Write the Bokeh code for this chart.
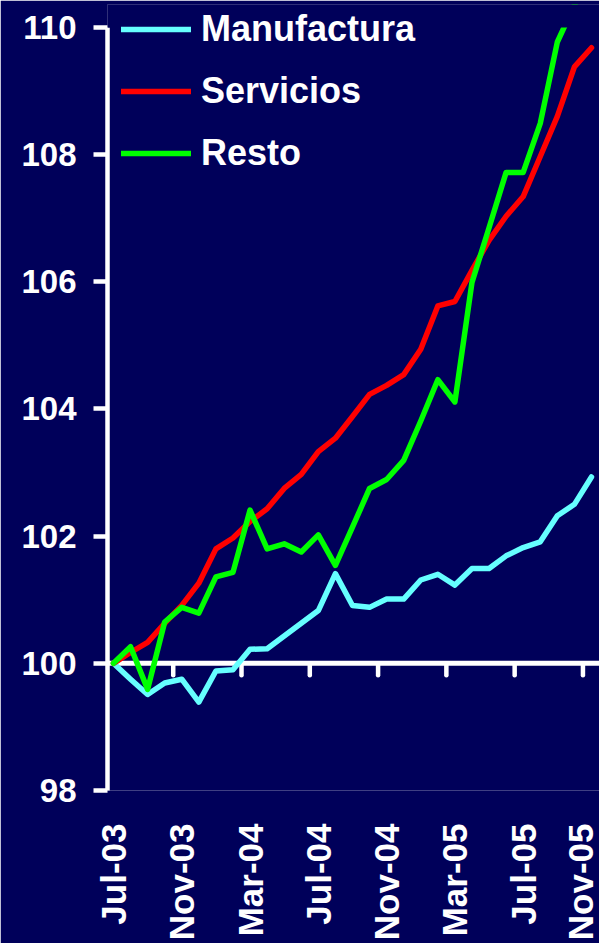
import numpy as np
from bokeh.plotting import figure
from bokeh.models import Legend, LegendItem, Span, FixedTicker, Range1d, BoxAnnotation
from bokeh.embed import file_html
from bokeh.resources import INLINE

months = ["Jul-03", "Aug-03", "Sep-03", "Oct-03", "Nov-03", "Dec-03",
          "Jan-04", "Feb-04", "Mar-04", "Apr-04", "May-04", "Jun-04",
          "Jul-04", "Aug-04", "Sep-04", "Oct-04", "Nov-04", "Dec-04",
          "Jan-05", "Feb-05", "Mar-05", "Apr-05", "May-05", "Jun-05",
          "Jul-05", "Aug-05", "Sep-05", "Oct-05", "Nov-05"]

manufactura = [100.00, 99.75, 99.51, 99.69, 99.75, 99.39, 99.88, 99.90, 100.22,
               100.23, 100.43, 100.63, 100.83, 101.41, 100.91, 100.88, 101.01,
               101.01, 101.31, 101.40, 101.23, 101.49, 101.49, 101.69, 101.82,
               101.91, 102.32, 102.50, 102.93]
servicios = [100.00, 100.17, 100.33, 100.63, 100.91, 101.26, 101.80, 101.97, 102.23,
             102.43, 102.75, 102.97, 103.33, 103.54, 103.88, 104.23, 104.37,
             104.54, 104.94, 105.62, 105.69, 106.18, 106.65, 107.03, 107.34,
             107.97, 108.60, 109.38, 109.68]
resto = [100.00, 100.26, 99.59, 100.65, 100.88, 100.79, 101.36, 101.43, 102.41,
         101.80, 101.88, 101.75, 102.02, 101.54, 102.14, 102.75, 102.89, 103.19,
         103.81, 104.46, 104.11, 105.99, 106.85, 107.72, 107.72, 108.49, 109.77,
         110.35, 110.80]

y_ticks = [98, 100, 102, 104, 106, 108, 110]
label_step = 4

x = list(range(len(months)))
bg = "#00005A"
FONT = "Liberation Sans"
y_min, y_max = y_ticks[0], y_ticks[-1]

p = figure(width=599, height=943, x_range=Range1d(-0.35, 28.47), y_range=Range1d(y_min, 110.36),
           output_backend="svg", toolbar_location=None,
           min_border_left=107, min_border_right=0, min_border_top=4, min_border_bottom=148)
p.background_fill_color = bg
p.border_fill_color = bg
p.outline_line_color = None
p.grid.visible = False

# y axis
p.yaxis.ticker = FixedTicker(ticks=y_ticks)
p.yaxis.bounds = (y_min, y_max)
p.yaxis.axis_line_color = "white"
p.yaxis.axis_line_width = 4.5
p.yaxis.major_tick_line_color = "white"
p.yaxis.major_tick_line_width = 4.5
p.yaxis.major_tick_out = 14
p.yaxis.major_tick_in = 0
p.yaxis.minor_tick_line_color = None
p.yaxis.major_label_standoff = 17
p.yaxis.major_label_text_color = "white"
p.yaxis.major_label_text_font = FONT
p.yaxis.major_label_text_font_style = "bold"
p.yaxis.major_label_text_font_size = "33px"

# x axis (labels only, at bottom)
lab_idx = list(range(0, len(months), label_step))
p.xaxis.ticker = FixedTicker(ticks=lab_idx)
p.xaxis.major_label_overrides = {i: months[i] for i in lab_idx}
p.xaxis.major_label_orientation = np.pi / 2
p.xaxis.axis_line_color = None
p.xaxis.major_tick_line_color = None
p.xaxis.minor_tick_line_color = None
p.xaxis.major_label_standoff = 27
p.xaxis.major_label_text_color = "white"
p.xaxis.major_label_text_font = FONT
p.xaxis.major_label_text_font_style = "bold"
p.xaxis.major_label_text_font_size = "35px"

# horizontal axis line at 100 with tick marks between categories
base = Span(location=100, dimension="width", line_color="white", line_width=5, level="underlay")
p.add_layout(base)
tick_x = [i - 0.5 for i in range(label_step, len(months), label_step)]
tick_len = 12 / 63.97
p.segment(x0=tick_x, x1=tick_x, y0=[100] * len(tick_x), y1=[100 - tick_len] * len(tick_x),
          line_color="white", line_width=4.5, line_cap="round")

lw = 5.5
r1 = p.line(x, manufactura, line_color="#66FFFF", line_width=lw, line_join="round", line_cap="round")
r2 = p.line(x, servicios, line_color="#FF0000", line_width=lw, line_join="round", line_cap="round")
r3 = p.line(x, resto, line_color="#00FF00", line_width=lw, line_join="round", line_cap="round")

# plot area ends at the top of the value axis: hide anything above it
mask = BoxAnnotation(bottom=y_max, fill_color=bg, fill_alpha=1.0, line_color=None)
p.add_layout(mask)

legend = Legend(items=[LegendItem(label="Manufactura", renderers=[r1]),
                       LegendItem(label="Servicios", renderers=[r2]),
                       LegendItem(label="Resto", renderers=[r3])],
                location=(14, 616), padding=0, margin=0, spacing=20,
                glyph_width=70, glyph_height=40, label_height=40, label_standoff=10,
                background_fill_alpha=0, border_line_color=None,
                label_text_color="white", label_text_font=FONT,
                label_text_font_style="bold", label_text_font_size="36px")
p.add_layout(legend)

open("out.html", "w").write(file_html(p, INLINE))
